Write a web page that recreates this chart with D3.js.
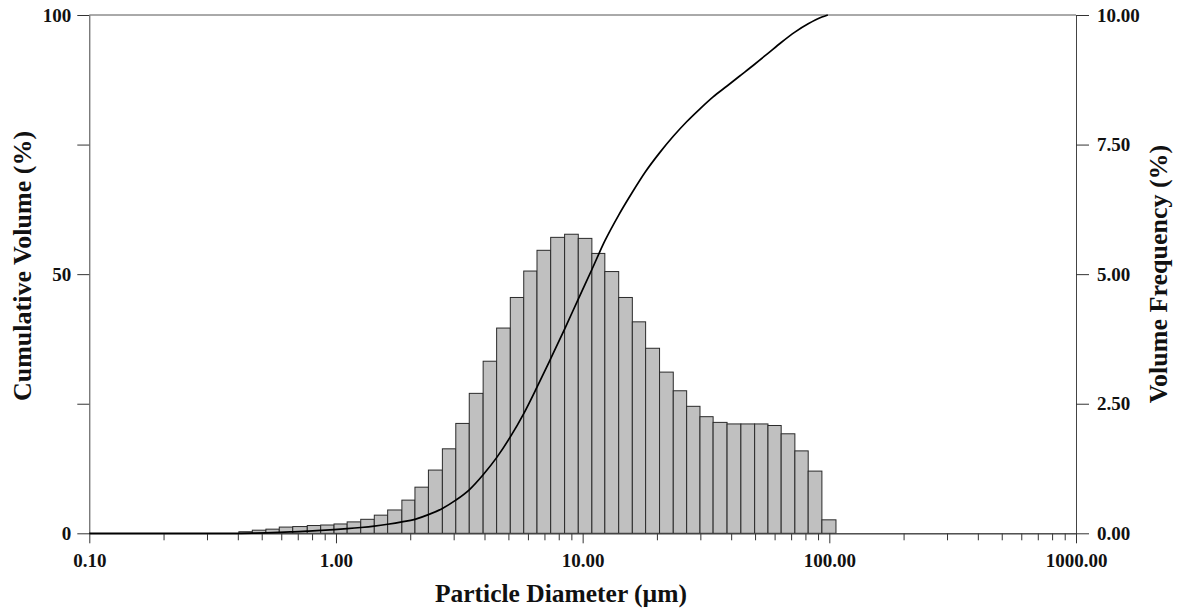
<!DOCTYPE html>
<html lang="en">
  <head>
    <meta charset="utf-8">
    <title>Particle size distribution</title>
    <script src="https://cdn.jsdelivr.net/npm/d3@7"></script>
    <style>
      body { margin: 0; background: #fff; }
    </style>
  </head>
  <body>
    <script>
      var w = 1179;
      var h = 610;
      var plotLeft = 89.3, plotRight = 1076, plotTop = 15, plotBottom = 533.3;
      var font = "'Liberation Serif', 'Times New Roman', serif";

      // bin edges (um), 44 bins
      var binEdges = [0.404, 0.458, 0.520, 0.589, 0.668, 0.765, 0.867, 0.982, 1.11, 1.26,
                      1.43, 1.62, 1.85, 2.09, 2.37, 2.70, 3.06, 3.47, 3.95, 4.48,
                      5.09, 5.77, 6.53, 7.42, 8.45, 9.60, 10.9, 12.3, 14.0, 15.9,
                      18.0, 20.5, 23.3, 26.4, 29.9, 33.8, 38.5, 43.8, 49.8, 56.4,
                      63.8, 72.5, 82.1, 93.3, 106.4];

      // volume frequency (%) per bin
      var frequency = [0.03, 0.06, 0.08, 0.12, 0.13, 0.15, 0.16, 0.18, 0.22, 0.27,
                       0.35, 0.45, 0.64, 0.89, 1.22, 1.63, 2.12, 2.70, 3.32, 3.96,
                       4.55, 5.06, 5.46, 5.71, 5.77, 5.69, 5.40, 5.05, 4.55, 4.08,
                       3.57, 3.11, 2.75, 2.45, 2.25, 2.14, 2.11, 2.11, 2.11, 2.08,
                       1.92, 1.59, 1.20, 0.26];

      // cumulative volume curve (%)
      var cumSize = [0.1, 0.404, 0.458, 0.520, 0.589, 0.668, 0.765, 0.867, 0.982, 1.11, 1.26,
                     1.43, 1.62, 1.85, 2.09, 2.37, 2.70, 3.06, 3.47, 3.95, 4.48,
                     5.09, 5.77, 6.53, 7.42, 8.45, 9.60, 10.9, 12.3, 14.0, 15.9,
                     18.0, 20.5, 23.3, 26.4, 29.9, 33.8, 38.5, 43.8, 49.8, 56.4,
                     63.8, 72.5, 82.1, 93.3, 98.6];
      var cumValue = [0, 0, 0.03, 0.09, 0.17, 0.29, 0.42, 0.56, 0.72, 0.90, 1.12,
                      1.39, 1.74, 2.19, 2.7, 3.6, 4.8, 6.4, 8.4, 11.3, 14.6,
                      18.6, 23.1, 28.2, 33.7, 39.4, 45.2, 50.9, 56.4, 61.4, 65.8,
                      69.8, 73.4, 76.6, 79.4, 81.9, 84.2, 86.3, 88.4, 90.5, 92.6,
                      94.7, 96.7, 98.3, 99.6, 100];

      var xMajor = [0.1, 1, 10, 100, 1000];
      var leftTicks = [0, 25, 50, 75, 100];
      var rightTicks = [0, 2.5, 5, 7.5, 10];

      var xMinor = [];
      [0.1, 1, 10, 100].forEach(function (d) {
        for (var k = 2; k <= 9; k++) xMinor.push(d * k);
      });

      var xScale = d3.scaleLog().domain([0.1, 1000]).range([plotLeft, plotRight]);
      var yLeft = d3.scaleLinear().domain([0, 100]).range([plotBottom, plotTop]);
      var yRight = d3.scaleLinear().domain([0, 10]).range([plotBottom, plotTop]);

      var svg = d3.select("body").append("svg")
                  .attr("width", w)
                  .attr("height", h);

      // bars
      var bins = frequency.map(function (v, i) {
        return { x0: binEdges[i], x1: binEdges[i + 1], v: v };
      });

      svg.append("g").selectAll("rect")
         .data(bins)
         .enter()
         .append("rect")
         .attr("x", function (d) { return xScale(d.x0); })
         .attr("width", function (d) { return xScale(d.x1) - xScale(d.x0); })
         .attr("y", function (d) { return yRight(d.v); })
         .attr("height", function (d) { return yRight(0) - yRight(d.v); })
         .attr("fill", "#c0c0c0")
         .attr("stroke", "#2a2a2a")
         .attr("stroke-width", 1);

      // frame top
      svg.append("line")
         .attr("x1", plotLeft).attr("x2", plotRight)
         .attr("y1", plotTop).attr("y2", plotTop)
         .attr("stroke", "#555");

      // axes
      var xAxis = d3.axisBottom(xScale)
                    .tickValues(xMajor)
                    .tickFormat(d3.format(".2f"))
                    .tickSize(10)
                    .tickSizeOuter(0)
                    .tickPadding(10);
      var xMinorAxis = d3.axisBottom(xScale)
                         .tickValues(xMinor)
                         .tickFormat("")
                         .tickSize(7)
                         .tickSizeOuter(0);
      var leftAxis = d3.axisLeft(yLeft)
                       .tickValues(leftTicks)
                       .tickFormat(function (d) { return d % 50 === 0 ? d : ""; })
                       .tickSize(12)
                       .tickSizeOuter(0)
                       .tickPadding(6);
      var rightAxis = d3.axisRight(yRight)
                        .tickValues(rightTicks)
                        .tickFormat(d3.format(".2f"))
                        .tickSize(13)
                        .tickSizeOuter(0)
                        .tickPadding(8);

      svg.append("g").attr("class", "axis")
         .attr("transform", "translate(0," + plotBottom + ")")
         .call(xMinorAxis);
      svg.append("g").attr("class", "axis")
         .attr("transform", "translate(0," + plotBottom + ")")
         .call(xAxis);
      svg.append("g").attr("class", "axis")
         .attr("transform", "translate(" + plotLeft + ",0)")
         .call(leftAxis);
      svg.append("g").attr("class", "axis")
         .attr("transform", "translate(" + plotRight + ",0)")
         .call(rightAxis);

      svg.selectAll(".axis path").attr("stroke", "#444");
      svg.selectAll(".axis line").attr("stroke", "#333");
      svg.selectAll(".axis text")
         .attr("font-family", font)
         .attr("font-weight", "bold")
         .attr("font-size", "19px")
         .attr("fill", "#111");

      // cumulative curve
      var line = d3.line()
                   .x(function (d, i) { return xScale(cumSize[i]); })
                   .y(function (d) { return yLeft(d); })
                   .curve(d3.curveMonotoneX);

      svg.append("path")
         .datum(cumValue)
         .attr("d", line)
         .attr("fill", "none")
         .attr("stroke", "#000")
         .attr("stroke-width", 1.7);

      // titles
      svg.append("text")
         .attr("x", 561)
         .attr("y", 602)
         .attr("text-anchor", "middle")
         .attr("font-family", font)
         .attr("font-weight", "bold")
         .attr("font-size", "25.5px")
         .attr("fill", "#111")
         .text("Particle Diameter (µm)");

      svg.append("text")
         .attr("transform", "translate(31,266) rotate(-90)")
         .attr("text-anchor", "middle")
         .attr("font-family", font)
         .attr("font-weight", "bold")
         .attr("font-size", "26px")
         .attr("fill", "#111")
         .text("Cumulative Volume (%)");

      svg.append("text")
         .attr("transform", "translate(1167,274) rotate(-90)")
         .attr("text-anchor", "middle")
         .attr("font-family", font)
         .attr("font-weight", "bold")
         .attr("font-size", "26px")
         .attr("fill", "#111")
         .text("Volume Frequency (%)");
    </script>
  </body>
</html>
